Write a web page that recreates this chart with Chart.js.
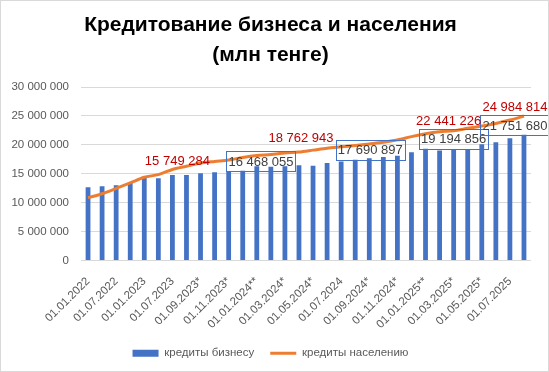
<!DOCTYPE html>
<html>
<head>
<meta charset="utf-8">
<script src="https://cdn.jsdelivr.net/npm/chart.js@4.4.1/dist/chart.umd.min.js"></script>
<style>
    html, body { margin: 0; padding: 0; background: #ffffff; }
    canvas { display: block; }
</style>
</head>
<body>
<canvas id="loansChart" width="549" height="372"></canvas>
<script>
// ==================== DATA ====================

const categories = [
    '01.01.2022', '01.04.2022', '01.07.2022', '01.10.2022',
    '01.01.2023', '01.04.2023', '01.07.2023', '01.08.2023*',
    '01.09.2023*', '01.10.2023', '01.11.2023*', '01.12.2023*',
    '01.01.2024**', '01.02.2024*', '01.03.2024*', '01.04.2024',
    '01.05.2024*', '01.06.2024*', '01.07.2024', '01.08.2024*',
    '01.09.2024*', '01.10.2024', '01.11.2024*', '01.12.2024*',
    '01.01.2025**', '01.02.2025*', '01.03.2025*', '01.04.2025',
    '01.05.2025*', '01.06.2025*', '01.07.2025', '01.08.2025*'
];

// кредиты бизнесу, млн тенге
const businessLoans = [
    12690000, 12860000, 13030000, 13430000,
    14400000, 14230000, 14800000, 14800000,
    15100000, 15260000, 15430000, 15540000,
    16300000, 16200000, 16290000, 16468055,
    16400000, 16860000, 17140000, 17430000,
    17690897, 17890000, 18110000, 18740000,
    19310000, 19030000, 19194856, 19260000,
    20110000, 20460000, 21140000, 21751680
];

// кредиты населению, млн тенге
const householdLoans = [
    10850000, 11540000, 12460000, 13430000,
    14400000, 14860000, 15749284, 16290000,
    16860000, 17140000, 17370000, 17830000,
    18170000, 18340000, 18600000, 18762943,
    19090000, 19430000, 19660000, 19890000,
    20170000, 20460000, 20860000, 21430000,
    21940000, 22290000, 22441226, 22860000,
    23260000, 23710000, 24290000, 24984814
];

const yMin = 0;
const yMax = 30000000;
const yStep = 5000000;

// which points carry a value label
const businessLabelAt = [15, 20, 26, 31];
const householdLabelAt = [6, 15, 26, 31];

// ==================== HELPERS ====================

const FONT = "'Liberation Sans', Arial, sans-serif";
const BLUE = '#4472C4';
const ORANGE = '#ED7D31';
const GREY_TEXT = '#595959';

function fmt(n) {
    return String(Math.round(n)).replace(/\B(?=(\d{3})+(?!\d))/g, ' ');
}

// Label nudges (px) relative to the point / bar top
const labelNudge = {
    line: { 6: [5, -8], 15: [2, -14], 26: [-5, -9], 31: [-9, -9] },
    bar:  { 15: [-38, -4], 20: [1, -8.5], 26: [0, -11], 31: [-9, -9.5] }
};

const valueLabels = {
    id: 'valueLabels',
    afterDatasetsDraw(chart) {
        const ctx = chart.ctx;
        const x = chart.scales.x;
        const y = chart.scales.y;
        ctx.save();
        ctx.font = '13px ' + FONT;
        ctx.textAlign = 'center';
        ctx.textBaseline = 'middle';

        // boxed labels for business loans
        businessLabelAt.forEach(i => {
            const [dx, dy] = labelNudge.bar[i] || [0, -10];
            const cx = x.getPixelForValue(i) + dx;
            const cy = y.getPixelForValue(businessLoans[i]) + dy;
            const text = fmt(businessLoans[i]);
            const w = ctx.measureText(text).width + 4;
            ctx.strokeStyle = BLUE;
            ctx.lineWidth = 1;
            ctx.strokeRect(Math.round(cx - w / 2) + 0.5, Math.round(cy - 10) + 0.5, Math.round(w), 20);
            ctx.fillStyle = '#404040';
            ctx.fillText(text, cx, cy + 1);
        });

        // red labels for household loans
        householdLabelAt.forEach(i => {
            const [dx, dy] = labelNudge.line[i] || [0, -10];
            const cx = x.getPixelForValue(i) + dx;
            const cy = y.getPixelForValue(householdLoans[i]) + dy;
            ctx.fillStyle = '#C00000';
            ctx.fillText(fmt(householdLoans[i]), cx, cy);
        });
        ctx.restore();
    }
};

const frame = {
    id: 'frame',
    beforeDraw(chart) {
        const ctx = chart.ctx;
        ctx.save();
        ctx.fillStyle = '#ffffff';
        ctx.fillRect(0, 0, chart.width, chart.height);
        ctx.restore();
    },
    afterDraw(chart) {
        const ctx = chart.ctx;
        ctx.save();
        ctx.strokeStyle = '#D9D9D9';
        ctx.lineWidth = 1;
        ctx.strokeRect(0.5, 0.5, chart.width - 1, chart.height - 1);
        ctx.restore();
    }
};

// ==================== CHART ====================

const ctx = document.getElementById('loansChart').getContext('2d');

new Chart(ctx, {
    data: {
        labels: categories,
        datasets: [
            {
                type: 'bar',
                label: 'кредиты бизнесу',
                data: businessLoans,
                backgroundColor: BLUE,
                borderWidth: 0,
                barPercentage: 0.34,
                categoryPercentage: 1.0,
                order: 2
            },
            {
                type: 'line',
                label: 'кредиты населению',
                data: householdLoans,
                borderColor: ORANGE,
                backgroundColor: ORANGE,
                borderWidth: 3,
                pointRadius: 0,
                tension: 0.3,
                order: 1
            }
        ]
    },
    options: {
        responsive: false,
        animation: false,
        layout: {
            padding: { left: 10, right: 18, top: 6, bottom: 3 }
        },
        scales: {
            x: {
                grid: { display: false },
                border: { display: false },
                ticks: {
                    autoSkip: false,
                    maxRotation: 45,
                    minRotation: 45,
                    padding: 6,
                    color: GREY_TEXT,
                    font: { family: FONT, size: 11.5 },
                    callback(value, index) {
                        return index % 2 === 0 ? categories[index] : '';
                    }
                },
                afterFit(scale) { scale.height = 71; }
            },
            y: {
                min: yMin,
                max: yMax,
                grid: { color: '#D9D9D9', drawTicks: false },
                border: { display: false },
                ticks: {
                    stepSize: yStep,
                    padding: 12,
                    color: GREY_TEXT,
                    font: { family: FONT, size: 11.5 },
                    callback: v => fmt(v)
                },
                afterFit(scale) { scale.width = 71; }
            }
        },
        plugins: {
            title: {
                display: true,
                text: ['Кредитование бизнеса и населения', '(млн тенге)'],
                color: '#000000',
                font: { family: FONT, size: 21, weight: 'bold', lineHeight: 1.43 },
                padding: { top: 4, bottom: 17 }
            },
            legend: {
                position: 'bottom',
                labels: {
                    usePointStyle: true,
                    pointStyleWidth: 26,
                    boxHeight: 7,
                    padding: 16,
                    color: GREY_TEXT,
                    font: { family: FONT, size: 11.5 },
                    generateLabels(chart) {
                        return chart.data.datasets.map((ds, i) => ({
                            text: ds.label,
                            datasetIndex: i,
                            fillStyle: ds.backgroundColor,
                            strokeStyle: ds.type === 'line' ? ds.borderColor : 'rgba(0,0,0,0)',
                            lineWidth: ds.type === 'line' ? 3 : 0,
                            pointStyle: ds.type === 'line' ? 'line' : 'rect',
                            fontColor: GREY_TEXT,
                            hidden: false
                        }));
                    }
                }
            },
            tooltip: { enabled: false }
        }
    },
    plugins: [frame, valueLabels]
});
</script>
</body>
</html>
